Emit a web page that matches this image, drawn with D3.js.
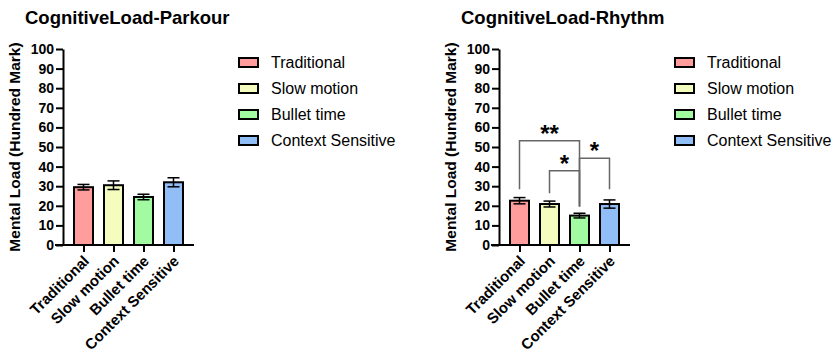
<!DOCTYPE html>
<html>
<head>
<meta charset="utf-8">
<script src="https://cdn.jsdelivr.net/npm/d3@7"></script>
<style>
  body { margin: 0; background: #fff; }
  svg text { font-family: "Liberation Sans", Arial, sans-serif; }
</style>
</head>
<body>
<svg width="835" height="354"></svg>
<script>
// the four conditions, same in both panels
const categories = ["Traditional", "Slow motion", "Bullet time", "Context Sensitive"];
const colors = ["#FF9C9C", "#F4FCBE", "#A2FBA1", "#92BEF8"];
const yTicks = [0, 10, 20, 30, 40, 50, 60, 70, 80, 90, 100];

// parkour panel (mean and error)
const parkourMeans = [29.5, 30.5, 24.5, 32.0];
const parkourErr = [1.4, 2.2, 1.4, 2.3];

// rhythm panel
const rhythmMeans = [22.6, 20.9, 15.0, 20.9];
const rhythmErr = [1.6, 1.5, 1.2, 2.1];

// significance brackets for rhythm: from / to index, bracket height, leg ends, label
const rhythmSig = [
  { from: 0, to: 2, y: 53.2, legFrom: 28.4, legTo: 19.7, label: "**" },
  { from: 1, to: 2, y: 37.9, legFrom: 26.4, legTo: 19.7, label: "*" },
  { from: 2, to: 3, y: 44.2, legFrom: 19.7, legTo: 28.4, label: "*" }
];

const svg = d3.select("svg");

function drawPanel(offset, title, means, errs, sig) {
  const g = svg.append("g").attr("transform", `translate(${offset},0)`);

  const y = d3.scaleLinear().domain([0, 100]).range([245, 49]);
  const x = d3.scalePoint().domain(categories).range([83.5, 173.5]);
  const barW = 19;

  // title
  g.append("text")
    .attr("x", 25).attr("y", 24)
    .attr("font-size", "18.5px").attr("font-weight", "bold")
    .text(title);

  // y label
  g.append("text")
    .attr("transform", "translate(20,147) rotate(-90)")
    .attr("text-anchor", "middle")
    .attr("font-size", "15.5px").attr("font-weight", "bold")
    .text("Mental Load (Hundred Mark)");

  // bars
  g.selectAll("rect.bar").data(means).enter()
    .append("rect")
      .attr("class", "bar")
      .attr("x", (d, i) => x(categories[i]) - barW / 2)
      .attr("y", d => y(d))
      .attr("width", barW)
      .attr("height", d => y(0) - y(d))
      .attr("fill", (d, i) => colors[i])
      .attr("stroke", "#000")
      .attr("stroke-width", 2);

  // error bars, both ways
  const eb = g.selectAll("g.err").data(means).enter().append("g").attr("class", "err");
  eb.append("line")
    .attr("x1", (d, i) => x(categories[i])).attr("x2", (d, i) => x(categories[i]))
    .attr("y1", (d, i) => y(d + errs[i])).attr("y2", (d, i) => y(d - errs[i]))
    .attr("stroke", "#000").attr("stroke-width", 1.5);
  [1, -1].forEach(s => {
    eb.append("line")
      .attr("x1", (d, i) => x(categories[i]) - 6).attr("x2", (d, i) => x(categories[i]) + 6)
      .attr("y1", (d, i) => y(d + s * errs[i])).attr("y2", (d, i) => y(d + s * errs[i]))
      .attr("stroke", "#000").attr("stroke-width", 1.5);
  });

  // y axis
  const yAxis = g.append("g")
    .attr("transform", "translate(63,0)")
    .call(d3.axisLeft(y).tickValues(yTicks).tickSize(7).tickSizeOuter(0).tickPadding(2));
  yAxis.select(".domain").attr("stroke-width", 2);
  yAxis.selectAll(".tick line").attr("stroke-width", 2);
  yAxis.selectAll("text").attr("font-size", "14px").attr("font-weight", "bold").attr("fill", "#000");

  // x axis
  const xAxis = g.append("g")
    .attr("transform", `translate(0,${y(0)})`)
    .call(d3.axisBottom(x).tickSize(7).tickSizeOuter(0));
  xAxis.select(".domain").attr("d", "M55,0H194").attr("stroke-width", 2);
  xAxis.selectAll(".tick line").attr("stroke-width", 2);
  xAxis.selectAll("text")
    .attr("font-size", "15px").attr("font-weight", "bold").attr("fill", "#000")
    .attr("text-anchor", "end")
    .attr("dy", "0")
    .attr("transform", "translate(6,17) rotate(-45)")
    .attr("y", 0).attr("x", 0);

  // legend
  const leg = g.selectAll("g.leg").data(categories).enter()
    .append("g").attr("class", "leg")
    .attr("transform", (d, i) => `translate(239,${58 + i * 26})`);
  leg.append("rect")
    .attr("width", 19).attr("height", 9)
    .attr("fill", (d, i) => colors[i])
    .attr("stroke", "#000").attr("stroke-width", 2);
  leg.append("text")
    .attr("x", 32).attr("y", 10)
    .attr("font-size", "16px")
    .text(d => d);

  // significance brackets
  if (sig) {
    sig.forEach(s => {
      const x1 = x(categories[s.from]), x2 = x(categories[s.to]);
      g.append("path")
        .attr("d", `M${x1},${y(s.legFrom)}V${y(s.y)}H${x2}V${y(s.legTo)}`)
        .attr("fill", "none").attr("stroke", "#666").attr("stroke-width", 1.5);
      g.append("text")
        .attr("x", (x1 + x2) / 2).attr("y", y(s.y) + 1)
        .attr("text-anchor", "middle")
        .attr("font-size", "24px").attr("font-weight", "bold")
        .text(s.label);
    });
  }
}

drawPanel(0, "CognitiveLoad-Parkour", parkourMeans, parkourErr, null);
drawPanel(436, "CognitiveLoad-Rhythm", rhythmMeans, rhythmErr, rhythmSig);
</script>
</body>
</html>
